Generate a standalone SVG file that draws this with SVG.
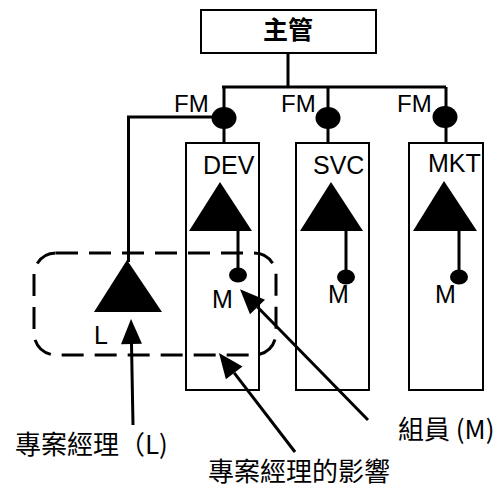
<svg xmlns="http://www.w3.org/2000/svg" width="495" height="488" viewBox="0 0 495 488">
<style>
.box{fill:none;stroke:#000;stroke-width:2}
.ln{fill:none;stroke:#000;stroke-width:3}
.lt{font-family:"Liberation Sans",Arial,sans-serif;font-size:24px;fill:#000}
.cj{font-family:"Noto Sans CJK TC","Noto Sans CJK SC",sans-serif;font-size:26px;fill:#000}
</style>
<defs>
<marker id="ah" markerUnits="userSpaceOnUse" markerWidth="26" markerHeight="22" refX="0" refY="0" orient="auto" overflow="visible">
<path d="M0,-10.5 L25,0 L0,10.5 z" fill="#000"/>
</marker>
</defs>
<g id="boss">
<rect class="box" x="201" y="10" width="175" height="43"/>
<text x="288" y="39" text-anchor="middle" class="cj" style="font-weight:bold;font-size:25px">主管</text>
</g>
<g id="fm1">
<ellipse cx="224" cy="118" rx="12.5" ry="11"/>
<text class="lt" x="174" y="112">FM</text>
</g>
<g id="fm2">
<ellipse cx="328" cy="118" rx="12.5" ry="11"/>
<text class="lt" x="281" y="112">FM</text>
</g>
<g id="fm3">
<ellipse cx="445" cy="117" rx="12.5" ry="11"/>
<text class="lt" x="397" y="112">FM</text>
</g>
<g id="dev">
<rect class="box" x="186" y="143" width="73" height="247"/>
<text class="lt" x="203" y="174" style="font-size:25px">DEV</text>
<polygon points="220,182 189,231 252,231"/>
<ellipse cx="238" cy="275" rx="9" ry="7.5"/>
<text class="lt" x="212" y="308" style="font-size:25px">M</text>
</g>
<g id="svc">
<rect class="box" x="296" y="143" width="73" height="247"/>
<text class="lt" x="313" y="174" style="font-size:25px">SVC</text>
<polygon points="331,182 300,231 363,231"/>
<ellipse cx="346" cy="277" rx="9" ry="7.5"/>
<text class="lt" x="328" y="303" style="font-size:25px">M</text>
</g>
<g id="mkt">
<rect class="box" x="409" y="143" width="74" height="247"/>
<text class="lt" x="428" y="172" style="font-size:25px">MKT</text>
<polygon points="444,181 413,231 477,231"/>
<ellipse cx="459" cy="277" rx="9" ry="7.5"/>
<text class="lt" x="435" y="303" style="font-size:25px">M</text>
</g>
<g id="pm-zone">
<rect x="34" y="253" width="242" height="102" rx="22" fill="none" stroke="#000" stroke-width="3" stroke-dasharray="22 11"/>
</g>
<g id="leader">
<polygon points="127,260 94,312 162,312"/>
<text class="lt" x="94" y="344" style="font-size:25px">L</text>
</g>
<g id="labels">
<text class="cj" x="15" y="454">專案經理（L)</text>
<text class="cj" x="398" y="439">組員 (M)</text>
<text class="cj" x="208" y="481">專案經理的影響</text>
</g>
<g id="connectors">
<path class="ln" d="M288,53 V87 M222,87 H446 M224,87 V143 M328,87 V143 M446,87 V143 M214,117 H128.5 V262"/>
<path class="ln" d="M238,231 V275 M346,231 V277 M459,231 V277"/>
<line class="ln" x1="368" y1="420" x2="257.5" y2="307" marker-end="url(#ah)"/>
<line class="ln" x1="295" y1="452" x2="234.2" y2="372.8" marker-end="url(#ah)"/>
<line class="ln" x1="133" y1="425" x2="131.5" y2="344" marker-end="url(#ah)"/>
</g>
</svg>
